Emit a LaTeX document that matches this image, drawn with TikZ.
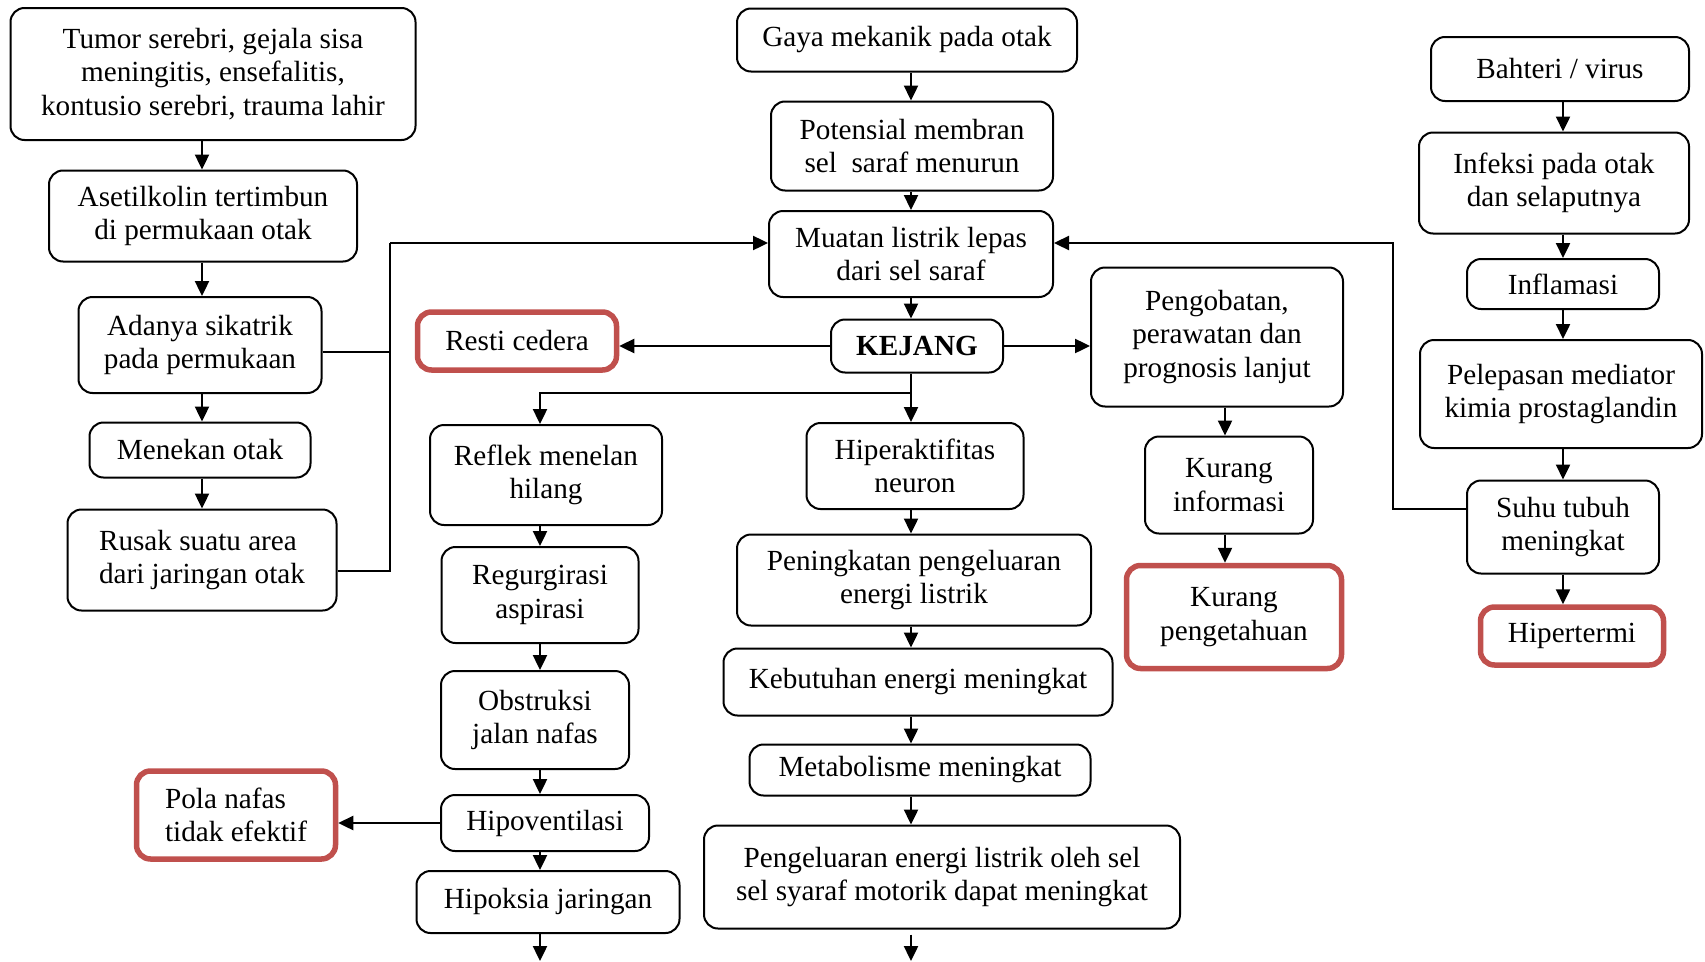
\documentclass[tikz,border=0pt]{standalone}
\usepackage{fontspec}
\setmainfont{Liberation Serif}
\usetikzlibrary{positioning, arrows.meta, calc}

\definecolor{alertred}{RGB}{192,80,77}

\begin{document}
\begin{tikzpicture}[
    x=1pt, y=-1pt,
    box/.style={rectangle, draw, rounded corners=14pt, line width=2pt, align=center, inner sep=0pt,
        font=\fontsize{29.2}{33.5}\selectfont},
    alertbox/.style={box, draw=alertred, line width=5.5pt},
    flow/.style={line width=2.4pt, -{Triangle[length=15pt, width=14pt]}},
    link/.style={line width=2.2pt},
]
    \useasboundingbox (0,0) rectangle (1705,961);

    % Arrow columns
    \coordinate (colL) at (202,0);
    \coordinate (colB) at (540,0);
    \coordinate (colM) at (911,0);
    \coordinate (colP) at (1225,0);
    \coordinate (colR) at (1563,0);

    % Left chain
    \node[box, minimum width=405pt, minimum height=132pt] (tumor) at (213,74) {Tumor serebri, gejala sisa\\meningitis, ensefalitis,\\kontusio serebri, trauma lahir};
    \node[box, minimum width=308pt, minimum height=91pt] (aset) at (203,216) {Asetilkolin tertimbun\\di permukaan otak};
    \node[box, minimum width=243pt, minimum height=96pt] (adanya) at (200,345) {Adanya sikatrik\\pada permukaan};
    \node[box, minimum width=221pt, minimum height=55pt] (menekan) at (200,450) {Menekan otak};
    \node[box, align=left, minimum width=269pt, minimum height=101pt] (rusak) at (202,560) {Rusak suatu area\\dari jaringan otak};

    % Middle chain
    \node[box, minimum width=340pt, minimum height=63pt] (gaya) at (907,40) {Gaya mekanik pada otak};
    \node[box, minimum width=282pt, minimum height=89pt] (poten) at (912,146) {Potensial membran\\sel\ \ saraf menurun};
    \node[box, minimum width=284pt, minimum height=86pt] (muatan) at (911,254) {Muatan listrik lepas\\dari sel saraf};
    \node[box, minimum width=172pt, minimum height=53pt] (kejang) at (917,346) {\textbf{KEJANG}};
    \node[alertbox, minimum width=199pt, minimum height=58pt] (resti) at (517,341) {Resti cedera};

    % Respiratory branch
    \node[box, minimum width=232pt, minimum height=100pt] (reflek) at (546,475) {Reflek menelan\\hilang};
    \node[box, minimum width=197pt, minimum height=96pt] (regurg) at (540,595) {Regurgirasi\\aspirasi};
    \node[box, minimum width=188pt, minimum height=98pt] (obstr) at (535,720) {Obstruksi\\jalan nafas};
    \node[box, minimum width=208pt, minimum height=56pt] (hipovent) at (545,823) {Hipoventilasi};
    \node[box, minimum width=263pt, minimum height=62pt] (hipoksia) at (548,902) {Hipoksia jaringan};
    \node[alertbox, align=left, minimum width=199pt, minimum height=88pt] (pola) at (236,815) {Pola nafas\\tidak efektif};

    % Energy branch
    \node[box, minimum width=217pt, minimum height=86pt] (hiperakt) at (915,466) {Hiperaktifitas\\neuron};
    \node[box, minimum width=354pt, minimum height=91pt] (pening) at (914,580) {Peningkatan pengeluaran\\energi listrik};
    \node[box, minimum width=389pt, minimum height=67pt] (kebut) at (918,682) {Kebutuhan energi meningkat};
    \node[box, minimum width=341pt, minimum height=51pt] (metab) at (920,770) {Metabolisme meningkat};
    \node[box, minimum width=476pt, minimum height=103pt] (pengel) at (942,877) {Pengeluaran energi listrik oleh sel\\sel syaraf motorik dapat meningkat};

    % Knowledge branch
    \node[box, minimum width=252pt, minimum height=139pt] (pengob) at (1217,337) {Pengobatan,\\perawatan dan\\prognosis lanjut};
    \node[box, minimum width=168pt, minimum height=97pt] (kurinfo) at (1229,485) {Kurang\\informasi};
    \node[alertbox, minimum width=215pt, minimum height=103pt] (kurpeng) at (1234,617) {Kurang\\pengetahuan};

    % Infection chain
    \node[box, minimum width=258pt, minimum height=64pt] (bahteri) at (1560,69) {Bahteri / virus};
    \node[box, minimum width=270pt, minimum height=101pt] (infeksi) at (1554,183) {Infeksi pada otak\\dan selaputnya};
    \node[box, minimum width=192pt, minimum height=50pt] (inflam) at (1563,284) {Inflamasi};
    \node[box, minimum width=282pt, minimum height=108pt] (pelepas) at (1561,394) {Pelepasan mediator\\kimia prostaglandin};
    \node[box, minimum width=192pt, minimum height=93pt] (suhu) at (1563,527) {Suhu tubuh\\meningkat};
    \node[alertbox, minimum width=183pt, minimum height=58pt] (hiperterm) at (1572,636) {Hipertermi};

    % Left chain arrows
    \draw[flow] (tumor.south -| colL) -- (aset.north -| colL);
    \draw[flow] (aset.south -| colL) -- (adanya.north -| colL);
    \draw[flow] (adanya.south -| colL) -- (menekan.north -| colL);
    \draw[flow] (menekan.south -| colL) -- (rusak.north -| colL);

    % Left bus into Muatan
    \coordinate (lTop) at (390,243);
    \draw[link] ([yshift=-7pt]adanya.east) -- ([yshift=-7pt]adanya.east -| lTop);
    \draw[link] ([yshift=-11pt]rusak.east) -| (lTop);
    \draw[flow] (lTop) -- (lTop -| muatan.west);

    % Middle chain arrows
    \draw[flow] (gaya.south -| colM) -- (poten.north -| colM);
    \draw[flow] (poten.south -| colM) -- (muatan.north -| colM);
    \draw[flow] (muatan.south -| colM) -- (kejang.north -| colM);
    \draw[flow] (kejang.west) -- (kejang.west -| resti.east);
    \draw[flow] (kejang.east) -- (kejang.east -| pengob.west);

    % Split below KEJANG
    \coordinate (split) at (911,393);
    \draw[link] (kejang.south -| colM) -- (split);
    \draw[flow] (split) -- (hiperakt.north -| colM);
    \draw[flow] (split) -| (reflek.north -| colB);

    % Respiratory arrows
    \draw[flow] (reflek.south -| colB) -- (regurg.north -| colB);
    \draw[flow] (regurg.south -| colB) -- (obstr.north -| colB);
    \draw[flow] (obstr.south -| colB) -- (hipovent.north -| colB);
    \draw[flow] (hipovent.south -| colB) -- (hipoksia.north -| colB);
    \draw[flow] (hipovent.west) -- (hipovent.west -| pola.east);
    \coordinate (endB) at (540,961);
    \draw[flow] (hipoksia.south -| colB) -- (endB);

    % Energy arrows
    \draw[flow] (hiperakt.south -| colM) -- (pening.north -| colM);
    \draw[flow] (pening.south -| colM) -- (kebut.north -| colM);
    \draw[flow] (kebut.south -| colM) -- (metab.north -| colM);
    \draw[flow] (metab.south -| colM) -- (pengel.north -| colM);
    \coordinate (endM) at (911,961);
    \draw[flow] ([yshift=-5pt]pengel.south -| colM) -- (endM);

    % Knowledge arrows
    \draw[flow] (pengob.south -| colP) -- (kurinfo.north -| colP);
    \draw[flow] (kurinfo.south -| colP) -- (kurpeng.north -| colP);

    % Infection arrows
    \draw[flow] (bahteri.south -| colR) -- (infeksi.north -| colR);
    \draw[flow] (infeksi.south -| colR) -- (inflam.north -| colR);
    \draw[flow] (inflam.south -| colR) -- (pelepas.north -| colR);
    \draw[flow] (pelepas.south -| colR) -- (suhu.north -| colR);
    \draw[flow] (suhu.south -| colR) -- (hiperterm.north -| colR);

    % Right bus into Muatan
    \coordinate (rTop) at (1393,243);
    \draw[flow] ([yshift=18pt]suhu.west) -| (rTop) -- (rTop -| muatan.east);

\end{tikzpicture}
\end{document}
